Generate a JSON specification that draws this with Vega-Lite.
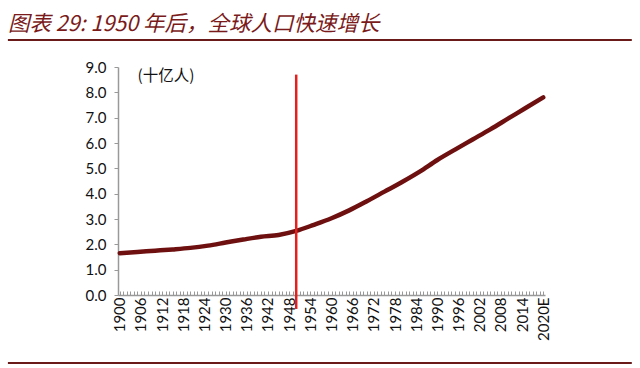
{
  "$schema": "https://vega.github.io/schema/vega-lite/v6.json",
  "width": 427,
  "height": 228,
  "autosize": {"type": "none"},
  "padding": {"left": 118, "top": 67, "right": 95, "bottom": 73},
  "background": "white",
  "title": {
    "text": "图表 29: 1950 年后，全球人口快速增长",
    "anchor": "start",
    "frame": "group",
    "dx": -110,
    "offset": 3,
    "font": "Noto Sans CJK SC",
    "fontStyle": "italic",
    "fontWeight": "normal",
    "fontSize": 21.5,
    "color": "#7a1a1a"
  },
  "config": {
    "view": {"stroke": null},
    "axis": {"labelFont": "Lato", "labelFontSize": 15, "labelColor": "#111", "domainColor": "#999", "tickColor": "#999", "grid": false, "title": null}
  },
  "datasets": {
    "pop": [
      {"year": 1900, "pop": 1.65}, {"year": 1905, "pop": 1.70}, {"year": 1910, "pop": 1.75},
      {"year": 1915, "pop": 1.80}, {"year": 1920, "pop": 1.86}, {"year": 1925, "pop": 1.95},
      {"year": 1930, "pop": 2.07}, {"year": 1935, "pop": 2.19}, {"year": 1940, "pop": 2.30},
      {"year": 1945, "pop": 2.37}, {"year": 1950, "pop": 2.53}, {"year": 1955, "pop": 2.77},
      {"year": 1960, "pop": 3.03}, {"year": 1965, "pop": 3.34}, {"year": 1970, "pop": 3.70},
      {"year": 1975, "pop": 4.08}, {"year": 1980, "pop": 4.46}, {"year": 1985, "pop": 4.87},
      {"year": 1990, "pop": 5.33}, {"year": 1995, "pop": 5.74}, {"year": 2000, "pop": 6.14},
      {"year": 2005, "pop": 6.54}, {"year": 2010, "pop": 6.96}, {"year": 2015, "pop": 7.38},
      {"year": 2020, "pop": 7.80}
    ],
    "marker": [{"year": 1950, "top": 8.7, "bottom": -0.55}],
    "unit": [{"year": 1905, "v": 8.65, "label": "(十亿人)"}],
    "frame": [
      {"x1": 1868.3, "x2": 2045.1, "y": 10.07},
      {"x1": 1868.3, "x2": 2045.1, "y": -2.68}
    ]
  },
  "layer": [
    {
      "data": {"name": "pop"},
      "mark": {"type": "line", "color": "#6e1010", "strokeWidth": 4.5, "strokeCap": "round", "interpolate": "monotone"},
      "encoding": {
        "x": {
          "field": "year", "type": "quantitative",
          "scale": {"domain": [1899.5, 2020.5], "nice": false, "zero": false},
          "axis": {
            "values": [1900,1901,1902,1903,1904,1905,1906,1907,1908,1909,1910,1911,1912,1913,1914,1915,1916,1917,1918,1919,1920,1921,1922,1923,1924,1925,1926,1927,1928,1929,1930,1931,1932,1933,1934,1935,1936,1937,1938,1939,1940,1941,1942,1943,1944,1945,1946,1947,1948,1949,1950,1951,1952,1953,1954,1955,1956,1957,1958,1959,1960,1961,1962,1963,1964,1965,1966,1967,1968,1969,1970,1971,1972,1973,1974,1975,1976,1977,1978,1979,1980,1981,1982,1983,1984,1985,1986,1987,1988,1989,1990,1991,1992,1993,1994,1995,1996,1997,1998,1999,2000,2001,2002,2003,2004,2005,2006,2007,2008,2009,2010,2011,2012,2013,2014,2015,2016,2017,2018,2019,2020],
            "tickCount": 500,
            "labelExpr": "datum.value == 2020 ? '2020E' : ((datum.value - 1900) % 6 == 0 ? toString(datum.value) : '')",
            "labelAngle": -90,
            "labelAlign": "right",
            "labelBaseline": "middle",
            "labelOverlap": false,
            "labelFlush": false,
            "labelBound": false,
            "labelPadding": 6,
            "tickSize": -4,
            "domainWidth": 1.5
          }
        },
        "y": {
          "field": "pop", "type": "quantitative",
          "scale": {"domain": [0, 9], "nice": false},
          "axis": {"values": [0,1,2,3,4,5,6,7,8,9], "tickCount": 50, "labelOverlap": false, "labelFlush": false, "format": ".1f", "tickSize": 4, "labelPadding": 8, "domainWidth": 1.5}
        }
      }
    },
    {
      "data": {"name": "marker"},
      "mark": {"type": "rule", "color": "#e3201e", "strokeWidth": 2.5, "clip": false},
      "encoding": {
        "x": {"field": "year", "type": "quantitative"},
        "y": {"field": "top", "type": "quantitative"},
        "y2": {"field": "bottom"}
      }
    },
    {
      "data": {"name": "frame"},
      "mark": {"type": "rule", "color": "#6b1a1a", "strokeWidth": 2, "clip": false},
      "encoding": {
        "x": {"field": "x1", "type": "quantitative"},
        "x2": {"field": "x2"},
        "y": {"field": "y", "type": "quantitative"}
      }
    },
    {
      "data": {"name": "unit"},
      "mark": {"type": "text", "font": "Noto Sans CJK SC", "fontSize": 15.5, "align": "left", "baseline": "middle", "color": "#111"},
      "encoding": {
        "x": {"field": "year", "type": "quantitative"},
        "y": {"field": "v", "type": "quantitative"},
        "text": {"field": "label"}
      }
    }
  ]
}
